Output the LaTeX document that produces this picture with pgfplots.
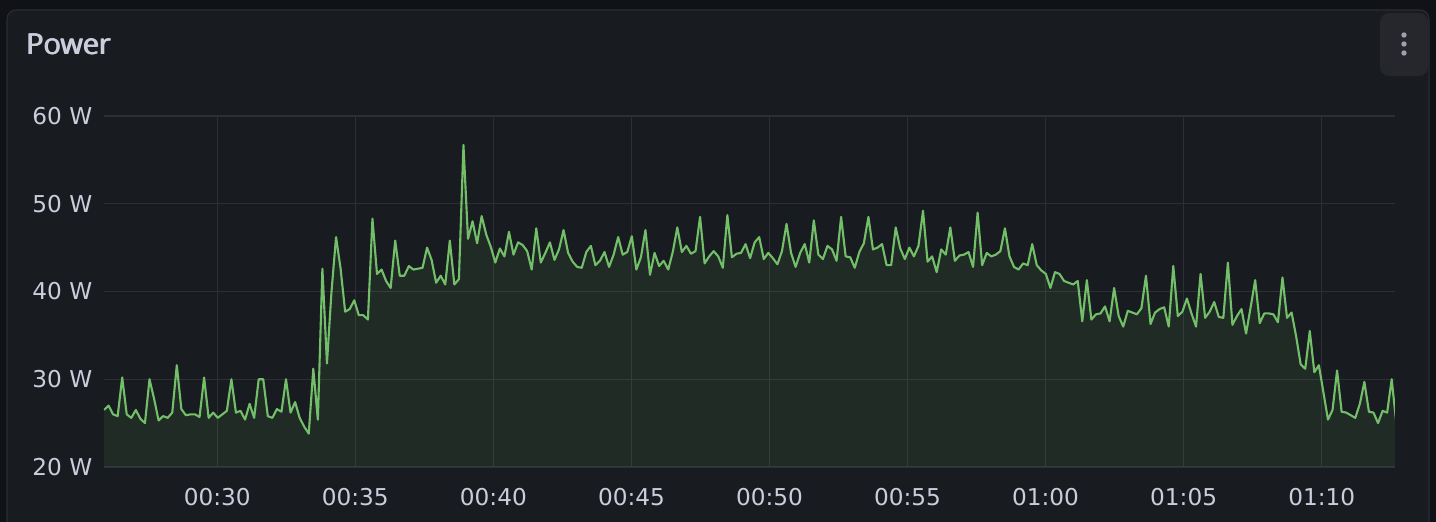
\documentclass[border=0pt]{standalone}
\usepackage{fontspec}
\setmainfont{DejaVu Sans}
\newfontfamily\titlefont{Open Sans}
\usepackage{pgfplots}
\usepackage{pgfplotstable}
\pgfplotsset{compat=1.18}

\definecolor{pagebg}{HTML}{111217}
\definecolor{panelbg}{HTML}{181B1F}
\definecolor{panelborder}{HTML}{2C2D33}
\definecolor{gridc}{HTML}{2E2F35}
\definecolor{labelc}{HTML}{CCCCDC}
\definecolor{lineg}{HTML}{73BF69}
\definecolor{menubg}{HTML}{26272C}
\definecolor{dotc}{HTML}{A0A1AA}

% one sample every ~10 s, starting at 00:25:54
\pgfplotstableread{
w
26.5
27.0
26.0
25.8
30.2
26.0
25.6
26.5
25.5
25.0
30.0
27.8
25.3
25.8
25.6
26.2
31.6
26.6
25.9
26.0
26.0
25.7
30.2
25.6
26.2
25.6
26.0
26.4
30.0
26.2
26.4
25.4
27.2
25.6
30.0
30.0
25.8
25.6
26.6
26.3
30.0
26.2
27.4
25.6
24.6
23.8
31.2
25.4
42.6
31.8
40.0
46.2
42.6
37.7
38.0
39.0
37.3
37.3
36.8
48.3
42.0
42.5
41.2
40.4
45.8
41.8
41.8
42.9
42.5
42.6
42.7
45.0
43.6
41.0
41.8
40.8
45.8
40.8
41.4
56.7
46.0
48.0
45.5
48.6
46.5
45.1
43.3
44.9
44.0
46.8
44.2
45.6
45.3
44.6
42.5
47.2
43.3
44.4
45.6
43.6
44.8
47.0
44.4
43.4
42.8
42.7
44.5
45.2
43.0
43.5
44.5
42.8
44.2
46.2
44.2
44.5
46.3
42.5
43.9
47.0
41.9
44.4
42.9
43.5
42.5
44.5
47.3
44.5
45.2
44.3
44.6
48.5
43.2
44.0
44.6
44.0
42.7
48.7
43.9
44.3
44.4
45.4
43.8
45.6
46.2
43.7
44.4
43.8
43.1
44.6
47.7
44.4
42.8
44.4
45.4
43.3
48.1
44.2
43.7
45.2
44.8
43.5
48.5
44.0
43.9
42.7
44.5
45.5
48.5
44.8
45.0
45.4
43.0
43.0
47.3
44.9
43.7
45.0
44.0
45.2
49.2
43.4
44.0
42.2
44.8
44.2
47.3
43.5
44.1
44.2
44.5
42.8
49.0
43.0
44.4
44.0
44.2
44.6
47.2
44.0
42.8
42.5
43.2
43.0
45.4
43.0
42.4
42.0
40.4
42.2
42.0
41.2
41.0
40.8
41.2
36.6
41.3
36.8
37.4
37.5
38.3
36.6
40.4
37.2
36.0
37.8
37.6
37.4
38.1
41.8
36.3
37.6
38.0
38.2
36.0
42.9
37.2
37.7
39.2
37.5
36.0
42.0
37.0
37.7
38.8
37.1
37.0
43.3
36.2
37.2
38.0
35.2
38.2
41.3
36.4
37.5
37.5
37.4
36.5
41.6
37.0
37.6
34.9
31.7
31.2
35.5
30.8
31.6
28.5
25.4
26.5
31.0
26.3
26.2
25.9
25.6
27.2
29.7
26.3
26.2
25.0
26.4
26.2
30.0
25.1
}\powerdata

\begin{document}
\begin{tikzpicture}
  % page and panel (1 px = 0.1 mm, origin at the plot's lower left corner)
  \path[use as bounding box] (-10.4mm,-5.5mm) rectangle (133.2mm,46.7mm);
  \fill[pagebg] (-10.4mm,-5.5mm) rectangle (133.2mm,46.7mm);
  \filldraw[fill=panelbg, draw=panelborder, line width=0.3pt, rounded corners=0.9mm]
    (-9.7mm,-8mm) rectangle (132.5mm,45.7mm);
  % title, set a few times with a tiny offset for a medium weight
  \foreach \dx in {0mm,0.06mm,0.12mm}
    \node[anchor=base west, inner sep=0pt, text=labelc,
          font=\titlefont\fontsize{8.2}{10}\selectfont] at ([xshift=\dx]-7.9mm,41.3mm) {Power};
  % panel menu button
  \fill[menubg, rounded corners=0.9mm] (127.6mm,39.1mm) rectangle (132.4mm,45.4mm);
  \fill[dotc] (130.0mm,43.2mm) circle (0.27mm);
  \fill[dotc] (130.0mm,42.3mm) circle (0.27mm);
  \fill[dotc] (130.0mm,41.4mm) circle (0.27mm);

  \begin{axis}[
    at={(0,0)}, anchor=south west,
    scale only axis,
    width=129.1mm, height=35.1mm,
    xmin=25.897, xmax=72.655,
    ymin=20, ymax=60,
    axis line style={draw=none},
    major tick length=0pt,
    xtick={30,35,40,45,50,55,60,65,70},
    xticklabels={00:30,00:35,00:40,00:45,00:50,00:55,01:00,01:05,01:10},
    ytick={20,30,40,50,60},
    yticklabels={20 W,30 W,40 W,50 W,60 W},
    grid=major,
    grid style={gridc, line width=0.3pt},
    ticklabel style={text=labelc, font=\fontsize{6.6}{8}\selectfont, inner sep=0pt},
    xticklabel style={anchor=north, yshift=-2.1mm},
    yticklabel style={anchor=east, xshift=-1.1mm},
  ]
    \addplot[draw=none, fill=lineg, fill opacity=0.1]
      table[x expr=25.897+\coordindex*0.1648, y=w] {\powerdata} \closedcycle;
    \addplot[lineg, line width=0.6pt, mark=none, line join=round]
      table[x expr=25.897+\coordindex*0.1648, y=w] {\powerdata};
  \end{axis}
\end{tikzpicture}
\end{document}
